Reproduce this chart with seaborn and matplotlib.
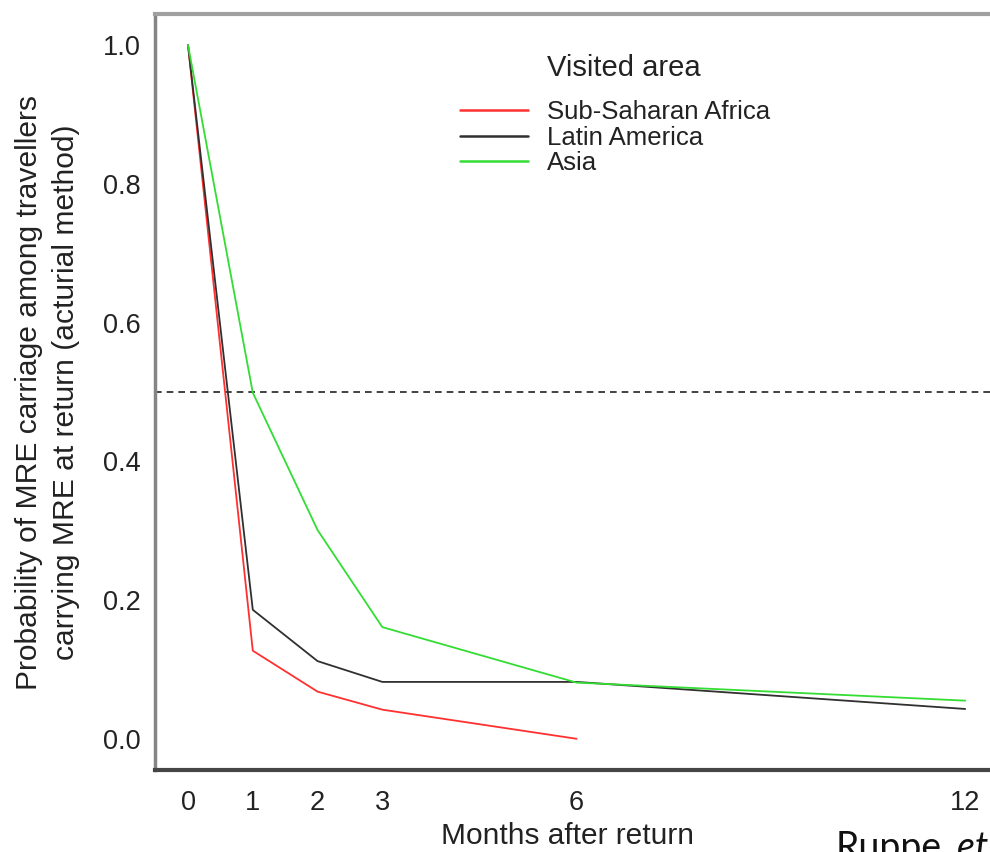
import numpy as np
import pandas as pd
import matplotlib
matplotlib.use("Agg")
import matplotlib.pyplot as plt
import seaborn as sns

# values
months_ssa = [0, 1, 2, 3, 6]
prob_ssa = [1.0, 0.127, 0.068, 0.042, 0.0]

months_latam = [0, 1, 2, 3, 6, 12]
prob_latam = [1.0, 0.186, 0.112, 0.082, 0.082, 0.043]

months_asia = [0, 1, 2, 3, 6, 12]
prob_asia = [1.0, 0.499, 0.301, 0.161, 0.081, 0.055]

areas = ["Sub-Saharan Africa", "Latin America", "Asia"]
area_colors = ["#ff3030", "#303030", "#33dd33"]

x_ticks = [0, 1, 2, 3, 6, 12]
y_ticks = [0.0, 0.2, 0.4, 0.6, 0.8, 1.0]
median_line = 0.5

frames = []
for name, m, p in zip(areas, [months_ssa, months_latam, months_asia],
                      [prob_ssa, prob_latam, prob_asia]):
    frames.append(pd.DataFrame({"months": m, "prob": p, "area": name}))
df = pd.concat(frames, ignore_index=True)

sns.set_style("white")
plt.rcParams['font.family'] = ['Liberation Sans', 'DejaVu Sans']

W, H = 990, 852
fig = plt.figure(figsize=(W / 100, H / 100), dpi=100)
ax = fig.add_axes([155 / W, 82 / H, 862 / W, 756 / H])

sns.lineplot(data=df, x="months", y="prob", hue="area", hue_order=areas,
             palette=dict(zip(areas, area_colors)), linewidth=1.3,
             errorbar=None, sort=False, ax=ax)
ax.axhline(median_line, color="#222222", lw=1.2, ls=(0, (4, 3)), zorder=1)

ax.set_xlim(-0.51, 12.8)
ax.set_ylim(-0.045, 1.045)
ax.set_xticks(x_ticks)
ax.set_xticklabels([str(t) for t in x_ticks])
ax.set_yticks(y_ticks)
ax.set_yticklabels([f"{t:.1f}" for t in y_ticks])
ax.tick_params(axis="x", length=1.5, width=1.5, pad=13, labelsize=19.5,
               colors="#222222", direction="out")
ax.tick_params(axis="y", length=4, width=1.2, pad=6, labelsize=19.5,
               colors="#222222", direction="out")

for side in ["top", "left", "bottom", "right"]:
    ax.spines[side].set_visible(True)
ax.spines["top"].set_color("#a0a0a0")
ax.spines["top"].set_linewidth(3)
ax.spines["left"].set_color("#858585")
ax.spines["left"].set_linewidth(2.5)
ax.spines["bottom"].set_color("#454545")
ax.spines["bottom"].set_linewidth(3)

ax.set_xlabel("Months after return", fontsize=21.5, color="#222222")
ax.xaxis.set_label_coords(0.479, -0.069)
ax.set_ylabel("Probability of MRE carriage among travellers\n"
              "carrying MRE at return (acturial method)",
              fontsize=21.6, color="#222222", linespacing=1.4)
ax.yaxis.set_label_coords(-0.087, 0.5)

leg = ax.legend(loc="upper left", bbox_to_anchor=(460 / W, 1 - 100 / H),
                bbox_transform=fig.transFigure, frameon=False,
                fontsize=18.5, borderpad=0, borderaxespad=0,
                handlelength=2.65, handletextpad=0.74, labelspacing=0.06)
for t in leg.get_texts():
    t.set_color("#222222")
for h in leg.get_lines():
    h.set_linewidth(1.8)
fig.text(624 / W, 1 - 68 / H, "Visited area", ha="center", va="center",
         fontsize=21, color="#222222")

fig.text(836 / W, 1 - 859 / H, "Ruppe,", ha="left", va="baseline",
         fontsize=27, color="#111111", family=["Lato", "DejaVu Sans"])
fig.text(957 / W, 1 - 859 / H, "et al.", ha="left", va="baseline",
         fontsize=27, style="italic", color="#111111",
         family=["Lato", "DejaVu Sans"])

fig.savefig("out.png", dpi=100)
